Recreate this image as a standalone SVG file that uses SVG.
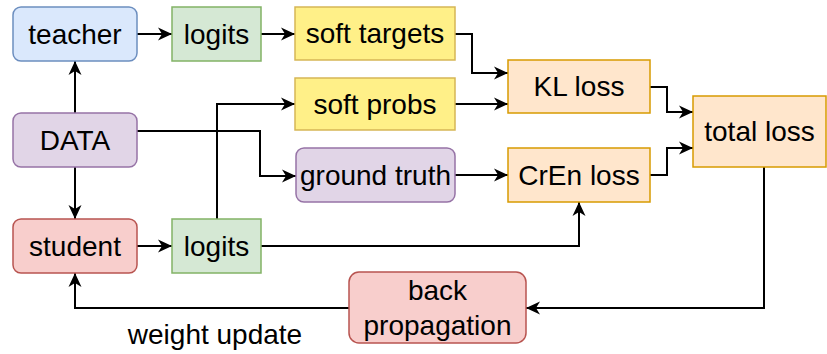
<svg xmlns="http://www.w3.org/2000/svg" width="827" height="354" viewBox="0 0 827 354">
<defs>
<marker id="arr" markerUnits="userSpaceOnUse" markerWidth="16" markerHeight="14" refX="14" refY="7" orient="auto">
<path d="M0,0.5 L14,7 L0,13.5 L4,7 Z" fill="#000"/>
</marker>
</defs>
<style>
text{font-family:"Liberation Sans",Arial,sans-serif;font-size:28px;fill:#000;text-anchor:middle}
.c{fill:none;stroke:#000;stroke-width:2;marker-end:url(#arr)}
.blue{fill:#dae8fc;stroke:#6c8ebf;stroke-width:1.5}
.green{fill:#d5e8d4;stroke:#82b366;stroke-width:1.5}
.yellow{fill:#fff088;stroke:#d6b656;stroke-width:1.5}
.orange{fill:#ffe6cc;stroke:#d79b00;stroke-width:1.5}
.purple{fill:#e1d5e7;stroke:#9673a6;stroke-width:1.5}
.red{fill:#f8cecc;stroke:#b85450;stroke-width:1.5}
</style>
<rect width="827" height="354" fill="#fff"/>
<g id="connectors">
<path class="c" d="M137,34 H172"/>
<path class="c" d="M261,34 H295"/>
<path class="c" d="M455,34 H472 V73 H508"/>
<path class="c" d="M455,104 H508"/>
<path class="c" d="M650,87 H667 V112 H693"/>
<path class="c" d="M650,175 H667 V148 H693"/>
<path class="c" d="M75,113 V61"/>
<path class="c" d="M75,167 V219"/>
<path class="c" d="M137,131 H260 V176 H296"/>
<path class="c" d="M217,219 V104 H295"/>
<path class="c" d="M137,246 H172"/>
<path class="c" d="M261,246 H579 V202"/>
<path class="c" d="M455,175 H508"/>
<path class="c" d="M764,167 V308 H526"/>
<path class="c" d="M349,308 H75 V273"/>
</g>
<g id="teacher"><rect class="blue" x="13" y="7" width="124" height="54" rx="8"/><text x="75" y="44">teacher</text></g>
<g id="logits-top"><rect class="green" x="172" y="7" width="89" height="54"/><text x="216.5" y="44">logits</text></g>
<g id="soft-targets"><rect class="yellow" x="295" y="7" width="160" height="53"/><text x="375" y="43">soft targets</text></g>
<g id="soft-probs"><rect class="yellow" x="295" y="78" width="160" height="52"/><text x="375" y="114">soft probs</text></g>
<g id="kl-loss"><rect class="orange" x="508" y="60" width="142" height="53"/><text x="579" y="96">KL loss</text></g>
<g id="total-loss"><rect class="orange" x="693" y="96" width="133" height="71"/><text x="759.5" y="141">total loss</text></g>
<g id="data"><rect class="purple" x="13" y="113" width="124" height="54" rx="8"/><text x="75" y="150">DATA</text></g>
<g id="ground-truth"><rect class="purple" x="296" y="148" width="159" height="54" rx="8"/><text x="375.5" y="185">ground truth</text></g>
<g id="cren-loss"><rect class="orange" x="508" y="148" width="142" height="54"/><text x="579" y="185">CrEn loss</text></g>
<g id="student"><rect class="red" x="13" y="219" width="124" height="54" rx="8"/><text x="75" y="256">student</text></g>
<g id="logits-bottom"><rect class="green" x="172" y="219" width="89" height="54"/><text x="216.5" y="256">logits</text></g>
<g id="back-propagation"><rect class="red" x="349" y="272" width="177" height="71" rx="10"/><text x="437.5" y="300">back</text><text x="437.5" y="335">propagation</text></g>
<g id="label-weight-update"><text x="215" y="344">weight update</text></g>
</svg>
